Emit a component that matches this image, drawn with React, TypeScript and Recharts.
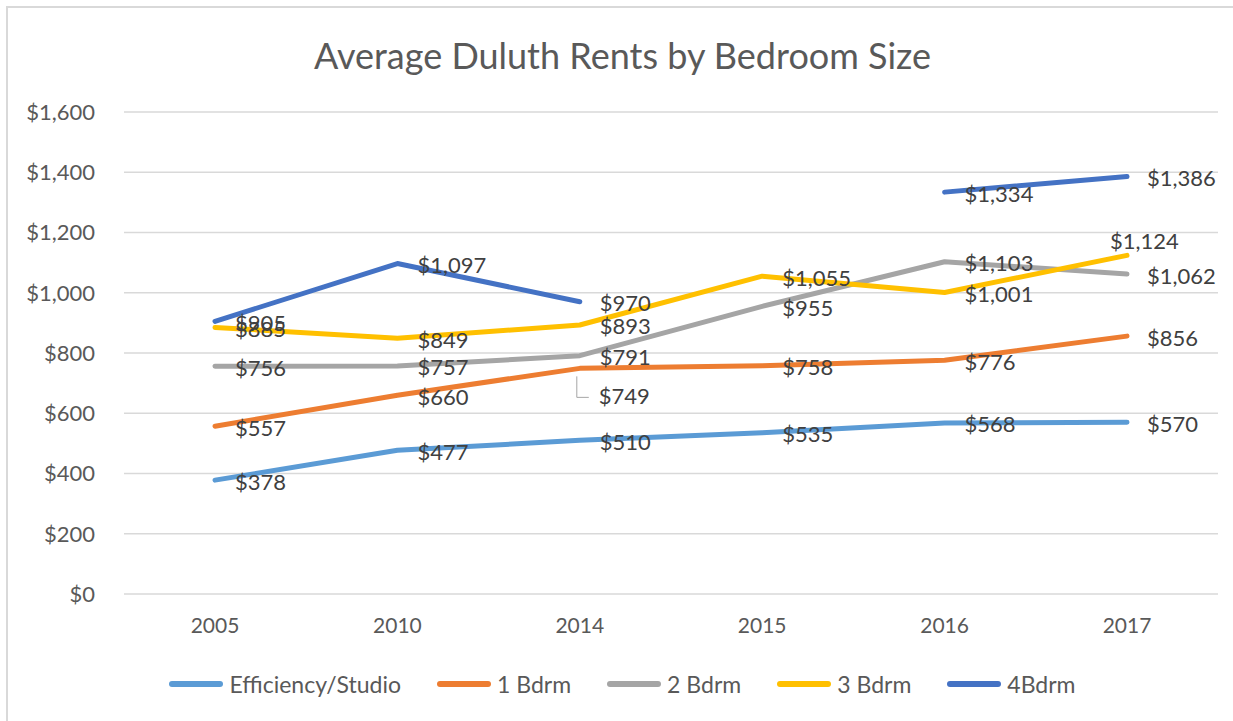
import React from 'react';
import { LineChart, Line, XAxis, YAxis, CartesianGrid, Legend, LabelList } from 'recharts';

const years = ['2005', '2010', '2014', '2015', '2016', '2017'];
const studio = [378, 477, 510, 535, 568, 570];
const bdrm1 = [557, 660, 749, 758, 776, 856];
const bdrm2 = [756, 757, 791, 955, 1103, 1062];
const bdrm3 = [885, 849, 893, 1055, 1001, 1124];
const bdrm4: (number | null)[] = [905, 1097, 970, null, 1334, 1386];
const yTicks = [0, 200, 400, 600, 800, 1000, 1200, 1400, 1600];

const seriesKeys = ['studio', 'b1', 'b2', 'b3', 'b4'];
const seriesNames = ['Efficiency/Studio', '1 Bdrm', '2 Bdrm', '3 Bdrm', '4Bdrm'];
const seriesColors = ['#5B9BD5', '#ED7D31', '#A5A5A5', '#FFC000', '#4472C4'];
const seriesValues = [studio, bdrm1, bdrm2, bdrm3, bdrm4];

const data = years.map((year, i) => {
  const row: Record<string, any> = { year };
  seriesKeys.forEach((k, s) => {
    row[k] = seriesValues[s][i];
  });
  return row;
});

// label placement tweaks (style only)
const labelShift: Record<string, { dx: number; dy: number; leader?: boolean }> = {
  'b1-2': { dx: 19, dy: 27, leader: true },
  'b3-5': { dx: -17, dy: -15 },
};

const FONT = 'Lato, "Open Sans", sans-serif';
const fmt = (v: number) => '$' + v.toLocaleString('en-US');

const makeLabel = (key: string) => (props: any) => {
  const { x, y, value, index } = props;
  if (value === null || value === undefined) return null;
  const shift = labelShift[`${key}-${index}`] || { dx: 20, dy: 1 };
  const tx = x + shift.dx;
  const ty = y + shift.dy;
  return (
    <g key={`${key}-${index}`}>
      {shift.leader && (
        <polyline
          points={`${x - 3},${y + 8} ${x - 3},${ty + 2} ${x + 9},${ty + 2}`}
          fill="none"
          stroke="#a6a6a6"
          strokeWidth={1}
        />
      )}
      <text
        x={tx}
        y={ty}
        fill="#404040"
        fontSize={22}
        fontFamily={FONT}
        dominantBaseline="central"
        textAnchor="start"
      >
        {fmt(value)}
      </text>
    </g>
  );
};

const renderLegend = (props: any) => {
  const payload = [...(props.payload || [])].sort(
    (a: any, b: any) => seriesNames.indexOf(a.value) - seriesNames.indexOf(b.value)
  );
  return (
    <div
      style={{
        display: 'flex',
        justifyContent: 'center',
        alignItems: 'center',
        height: 30,
        fontFamily: FONT,
        fontSize: 23,
        color: '#595959',
      }}
    >
      {payload.map((entry: any, i: number) => (
        <div key={i} style={{ display: 'flex', alignItems: 'center', marginLeft: i === 0 ? 0 : 36 }}>
          <div
            style={{
              width: 54,
              height: 6,
              borderRadius: 3,
              background: entry.color,
              marginRight: 6,
            }}
          />
          <span>{entry.value}</span>
        </div>
      ))}
    </div>
  );
};

export default function App() {
  return (
    <div
      style={{
        position: 'absolute',
        left: 0,
        top: 0,
        width: 1233,
        height: 721,
        background: '#fff',
        overflow: 'hidden',
      }}
    >
      <div
        style={{
          position: 'absolute',
          left: 6,
          top: 6,
          width: 1233,
          height: 721,
          borderLeft: '2px solid #d9d9d9',
          borderTop: '2px solid #d9d9d9',
        }}
      />
      <div
        style={{
          position: 'absolute',
          left: 0,
          top: 33,
          width: 1245,
          textAlign: 'center',
          fontFamily: FONT,
          fontSize: 36,
          color: '#595959',
          lineHeight: '44px',
        }}
      >
        Average Duluth Rents by Bedroom Size
      </div>
      <LineChart
        width={1233}
        height={721}
        data={data}
        margin={{ top: 112, right: 15, left: 0, bottom: 37 }}
      >
        <CartesianGrid vertical={false} stroke="#d9d9d9" strokeWidth={1.5} />
        <XAxis
          dataKey="year"
          padding={{ left: 91, right: 91 }}
          axisLine={false}
          tickLine={false}
          tickSize={0}
          tickMargin={24}
          height={60}
          tick={{ fill: '#595959', fontSize: 21, fontFamily: FONT }}
        />
        <YAxis
          domain={[0, 1600]}
          ticks={yTicks}
          width={124}
          axisLine={false}
          tickLine={false}
          tickSize={0}
          tickMargin={29}
          tickFormatter={fmt}
          tick={{ fill: '#595959', fontSize: 22, fontFamily: FONT }}
        />
        {seriesKeys.map((k, s) => (
          <Line
            key={k}
            dataKey={k}
            name={seriesNames[s]}
            stroke={seriesColors[s]}
            strokeWidth={5}
            dot={false}
            activeDot={false}
            strokeLinecap="round"
            strokeLinejoin="round"
            isAnimationActive={false}
            connectNulls={false}
            type="linear"
          >
            <LabelList dataKey={k} content={makeLabel(k)} />
          </Line>
        ))}
        <Legend
          verticalAlign="bottom"
          content={renderLegend}
          wrapperStyle={{ top: 669, bottom: 'auto', left: 0, width: 1245 }}
        />
      </LineChart>
    </div>
  );
}
